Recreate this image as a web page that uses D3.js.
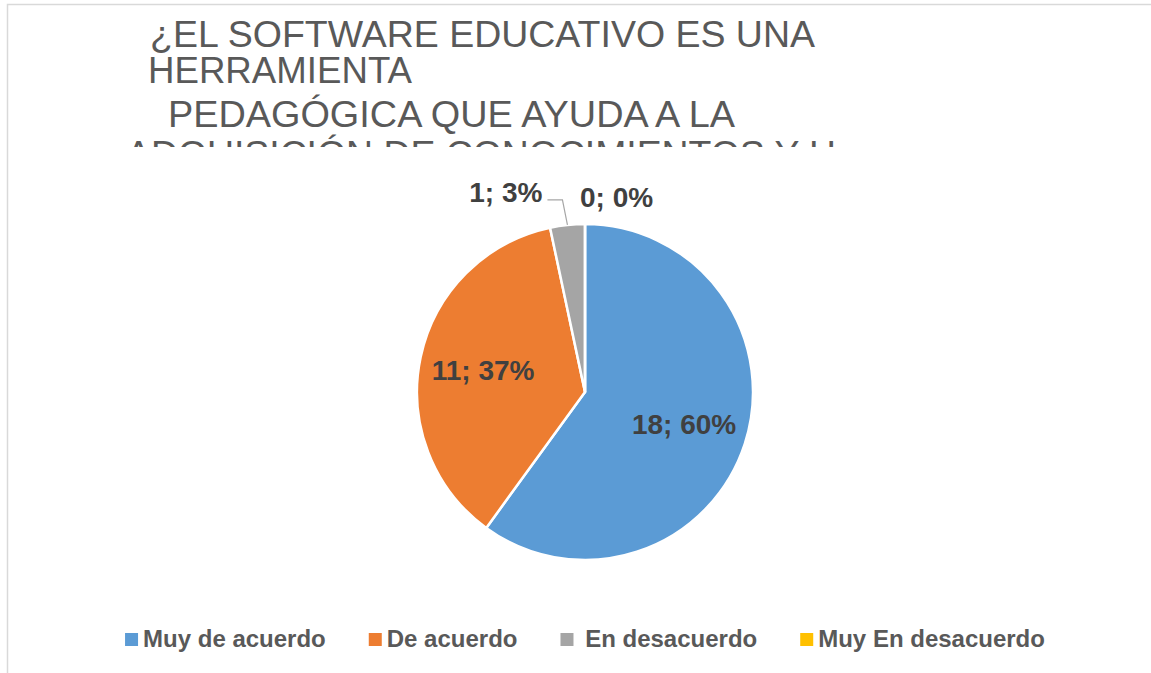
<!DOCTYPE html>
<html lang="es">
<head>
  <meta charset="UTF-8">
  <title>Software educativo - gráfico circular</title>
  <script src="https://d3js.org/d3.v7.min.js"></script>
  <style>
    body { margin: 0; background: #fff; }
    svg { font-family: "Liberation Sans", Arial, sans-serif; }
    .title { fill: #595959; font-size: 36px; }
    .label { fill: #404040; font-size: 28px; font-weight: bold; }
    .legend text { fill: #595959; font-size: 24px; font-weight: bold; }
  </style>
</head>
<body>
  <svg id="chart" width="1151" height="673"></svg>

  <script>
    // data
    const categories = ['Muy de acuerdo', 'De acuerdo', 'En desacuerdo', 'Muy En desacuerdo'];
    const counts = [18, 11, 1, 0];
    const colors = ['#5b9bd5', '#ed7d31', '#a5a5a5', '#ffc000'];
    const titleLines = [
      '¿EL SOFTWARE EDUCATIVO ES UNA',
      'HERRAMIENTA',
      'PEDAGÓGICA QUE AYUDA A LA',
      'ADQUISICIÓN DE CONOCIMIENTOS Y H'
    ];

    const svg = d3.select('#chart');
    const total = d3.sum(counts);

    // chart frame (runs off the right and bottom edge like the original)
    svg.append('rect')
      .attr('x', 7.5).attr('y', 4.5)
      .attr('width', 1200).attr('height', 720)
      .attr('fill', 'none')
      .attr('stroke', '#d9d9d9')
      .attr('stroke-width', 1.5);

    // title, last line cut off by the plot area
    svg.append('clipPath').attr('id', 'titleClip')
      .append('rect').attr('x', 0).attr('y', 0).attr('width', 1151).attr('height', 147);

    const titleLayout = [
      { x: 150, y: 47, w: 665 },
      { x: 148, y: 83, w: 264 },
      { x: 168, y: 127, w: 567 },
      { x: 126, y: 167, w: 710 }
    ];
    svg.append('g')
      .attr('clip-path', 'url(#titleClip)')
      .selectAll('text')
      .data(titleLines)
      .enter()
      .append('text')
      .attr('class', 'title')
      .attr('x', (d, i) => titleLayout[i].x)
      .attr('y', (d, i) => titleLayout[i].y)
      .attr('textLength', (d, i) => titleLayout[i].w)
      .attr('lengthAdjust', 'spacingAndGlyphs')
      .text(d => d);

    // pie
    const cx = 585, cy = 392, r = 168;
    const pie = d3.pie().sort(null).value(d => d);
    const arcs = pie(counts);
    const arc = d3.arc().innerRadius(0).outerRadius(r);
    const labelArc = d3.arc().innerRadius(r * 0.62).outerRadius(r * 0.62);
    const outerArc = d3.arc().innerRadius(r).outerRadius(r);

    const g = svg.append('g').attr('transform', `translate(${cx},${cy})`);

    g.selectAll('path')
      .data(arcs)
      .enter()
      .append('path')
      .attr('d', arc)
      .attr('fill', (d, i) => colors[i])
      .attr('stroke', '#fff')
      .attr('stroke-width', 2.5)
      .attr('stroke-linejoin', 'round');

    const labelText = d => `${d.data}; ${Math.round(d.data / total * 100)}%`;

    // big slices: label inside
    g.selectAll('text.inside')
      .data(arcs.filter(d => d.data / total >= 0.05))
      .enter()
      .append('text')
      .attr('class', 'label')
      .attr('text-anchor', 'middle')
      .attr('x', d => labelArc.centroid(d)[0])
      .attr('y', d => labelArc.centroid(d)[1] + 10)
      .text(labelText);

    // small slices: label outside, leader line for non-zero ones
    const small = arcs.filter(d => d.data / total < 0.05);

    small.filter(d => d.data > 0).forEach(d => {
      const p = outerArc.centroid(d);
      const elbow = [p[0] - 5, p[1] - 25];
      g.append('polyline')
        .attr('points', [p, elbow, [elbow[0] - 15, elbow[1]]].map(q => q.join(',')).join(' '))
        .attr('fill', 'none')
        .attr('stroke', '#a6a6a6')
        .attr('stroke-width', 1.2);
      g.append('text')
        .attr('class', 'label')
        .attr('text-anchor', 'end')
        .attr('x', elbow[0] - 20)
        .attr('y', elbow[1] + 2)
        .text(labelText(d));
    });

    small.filter(d => d.data === 0).forEach(d => {
      const p = outerArc.centroid(d);
      g.append('text')
        .attr('class', 'label')
        .attr('text-anchor', 'start')
        .attr('x', p[0] - 5)
        .attr('y', p[1] - 17)
        .text(labelText(d));
    });

    // legend, centred under the pie
    const legend = svg.append('g').attr('class', 'legend');
    const items = legend.selectAll('g')
      .data(categories)
      .enter()
      .append('g');

    items.append('rect')
      .attr('width', 13).attr('height', 13)
      .attr('y', -13)
      .attr('fill', (d, i) => colors[i]);

    items.append('text')
      .attr('x', 18)
      .attr('y', 1)
      .attr('xml:space', 'preserve')
      .text(d => d === 'En desacuerdo' ? ' ' + d : d);

    const gap = 43;
    let offset = 0;
    const widths = [];
    items.each(function () {
      widths.push(18 + this.querySelector('text').getComputedTextLength());
    });
    const totalW = d3.sum(widths) + gap * (widths.length - 1);
    items.attr('transform', (d, i) => {
      const x = offset;
      offset += widths[i] + gap;
      return `translate(${x},0)`;
    });
    legend.attr('transform', `translate(${cx - totalW / 2},646)`);
  </script>
</body>
</html>
